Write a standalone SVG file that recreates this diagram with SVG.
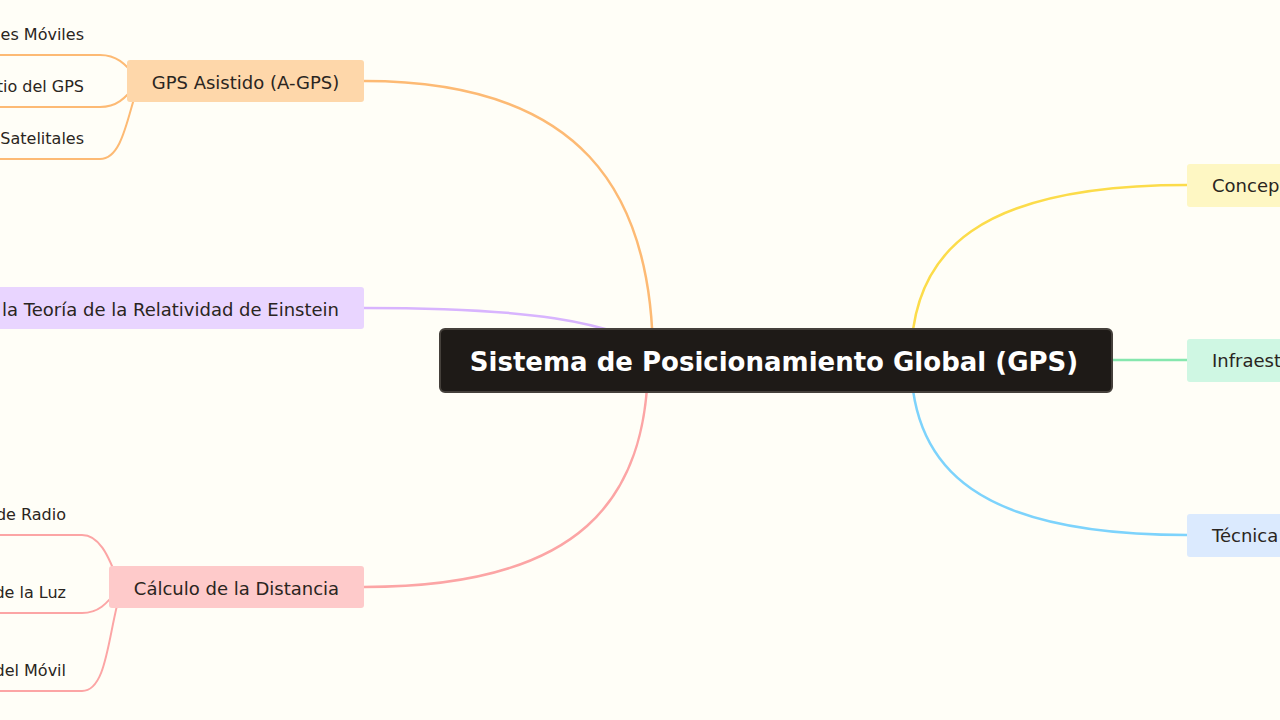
<svg xmlns="http://www.w3.org/2000/svg" width="1280" height="720" viewBox="0 0 1280 720">
<style>
text{font-family:"DejaVu Sans","Liberation Sans",sans-serif;fill:#2a2521}
.n{font-size:18px}
.l{font-size:16px;text-anchor:end}
.c{fill:none;stroke-width:2.5;stroke-linecap:round}
.lf{fill:none;stroke-width:2}
</style>
<rect width="1280" height="720" fill="#FFFEF7"/>
<g id="connectors">
<path class="c" stroke="#FDBA74" d="M364,81 C580,81 653,190 653,360"/>
<path class="c" stroke="#D8B4FE" d="M364,308 C520,308 610,318 680,360"/>
<path class="c" stroke="#FCA5A5" d="M364,587 C580,587 648,500 648,360"/>
<path class="c" stroke="#FCDC4A" d="M1187,185 C980,185 911,250 911,360"/>
<path class="c" stroke="#86E7AE" d="M1100,360 H1187"/>
<path class="c" stroke="#7DD3FC" d="M1187,535 C980,535 911,470 911,360"/>
<path class="lf" stroke="#FDBA74" d="M0,55 H100 C116,55 124,62 140,81"/>
<path class="lf" stroke="#FDBA74" d="M0,107 H100 C116,107 124,100 140,81"/>
<path class="lf" stroke="#FDBA74" d="M0,159 H100 C124,159 128,110 140,81"/>
<path class="lf" stroke="#FCA5A5" d="M0,535 H82 C98,535 108,552 120,587"/>
<path class="lf" stroke="#FCA5A5" d="M0,613 H82 C98,613 106,605 120,587"/>
<path class="lf" stroke="#FCA5A5" d="M0,691 H82 C108,691 108,630 122,587"/>
</g>
<g id="root">
<rect x="440" y="329" width="672" height="63" rx="5" fill="#1E1A17" stroke="#45403B" stroke-width="2"/>
<text x="774" y="370.5" text-anchor="middle" font-size="26" font-weight="bold" style="fill:#FFFFFF">Sistema de Posicionamiento Global (GPS)</text>
</g>
<g id="n-agps">
<rect x="127" y="60" width="237" height="42" rx="3" fill="#FED7AA"/>
<text class="n" x="245.5" y="88.5" text-anchor="middle">GPS Asistido (A-GPS)</text>
</g>
<g id="l-moviles"><text class="l" x="84" y="40">es Móviles</text></g>
<g id="l-gps"><text class="l" x="84" y="92">ctio del GPS</text></g>
<g id="l-sat"><text class="l" x="84" y="144">Satelitales</text></g>
<g id="n-einstein">
<rect x="-20" y="287" width="384" height="42" rx="3" fill="#E9D5FF"/>
<text class="n" x="339" y="315.5" text-anchor="end">la Teoría de la Relatividad de Einstein</text>
</g>
<g id="n-calculo">
<rect x="109" y="566" width="255" height="42" rx="3" fill="#FECACA"/>
<text class="n" x="236.5" y="594.5" text-anchor="middle">Cálculo de la Distancia</text>
</g>
<g id="l-radio"><text class="l" x="66" y="520">de Radio</text></g>
<g id="l-luz"><text class="l" x="66" y="598">de la Luz</text></g>
<g id="l-movil"><text class="l" x="66" y="676">del Móvil</text></g>
<g id="n-concep">
<rect x="1187" y="164" width="120" height="43" rx="3" fill="#FEF7C3"/>
<text class="n" x="1212" y="192">Concep</text>
</g>
<g id="n-infra">
<rect x="1187" y="339" width="120" height="43" rx="3" fill="#CFF7E3"/>
<text class="n" x="1212" y="367">Infraest</text>
</g>
<g id="n-tecnica">
<rect x="1187" y="514" width="120" height="43" rx="3" fill="#DBEAFE"/>
<text class="n" x="1212" y="542">Técnica</text>
</g>
</svg>
